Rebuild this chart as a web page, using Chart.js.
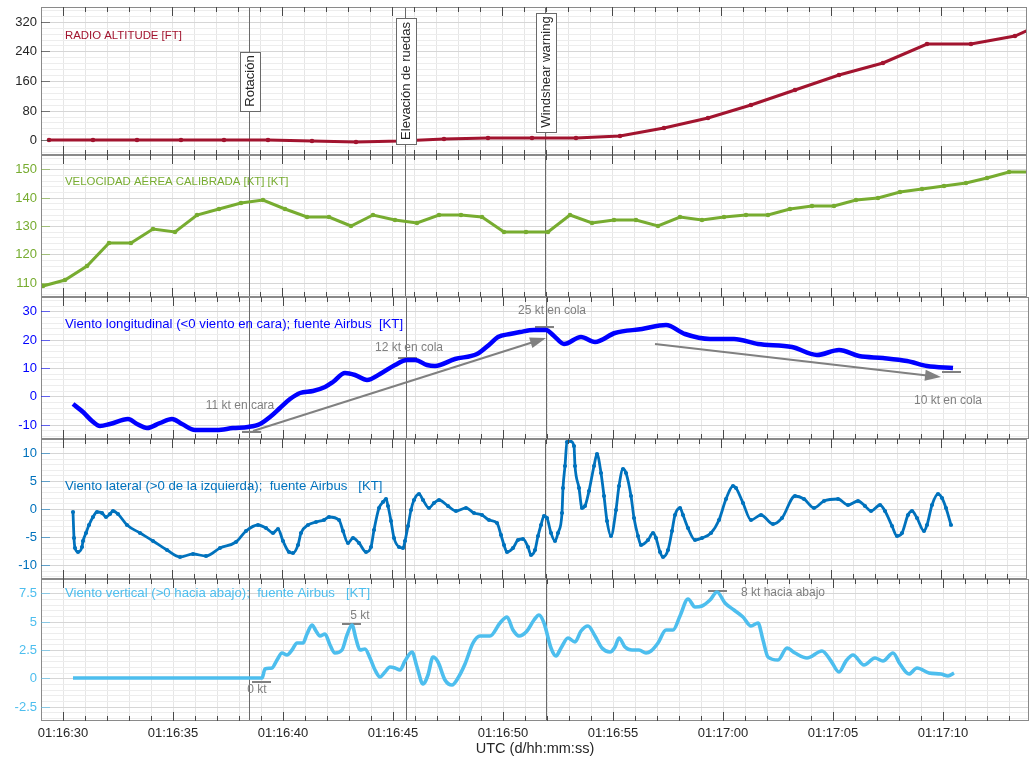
<!DOCTYPE html>
<html lang="es">
<head>
<meta charset="utf-8">
<title>Despegue: altura, velocidad y viento</title>
<script src="https://cdn.jsdelivr.net/npm/chart.js@4.4.1/dist/chart.umd.min.js"></script>
<style>
  html, body { margin: 0; padding: 0; background: #ffffff; }
  #figure { position: relative; width: 1031px; height: 757px; overflow: hidden; background: #ffffff; }
  #figure canvas { position: absolute; left: 0; }
</style>
</head>
<body>
<div id="figure"></div>
<script>
// ---------------------------------------------------------------------------
// Data. Time is given in seconds after 01:16:30 UTC.
// ---------------------------------------------------------------------------
const xMajorTimes  = [0, 5, 10, 15, 20, 25, 30, 35, 40];
const xMajorLabels = ['01:16:30', '01:16:35', '01:16:40', '01:16:45', '01:16:50',
                      '01:16:55', '01:17:00', '01:17:05', '01:17:10'];

const eventTimes    = [8.48, 15.6, 21.97];
const eventNames    = ['Rotación', 'Elevación de ruedas', 'Windshear warning'];
const eventLabelAlt = [161, 161, 184];   // box centre, on the radio-altitude axis

const raTicks   = [0, 80, 160, 240, 320];
const casTicks  = [110, 120, 130, 140, 150];
const longTicks = [-10, 0, 10, 20, 30];
const latTicks  = [-10, -5, 0, 5, 10];
const vertTicks = [-2.5, 0, 2.5, 5, 7.5];

// Radio altitude [ft]
const raTime = [-0.63, 1.37, 3.37, 5.37, 7.37, 9.37, 11.37, 13.37, 15.37, 17.37, 19.37, 21.37,
                23.37, 25.37, 27.37, 29.37, 31.37, 33.37, 35.37, 37.37, 39.37, 41.37, 43.37, 45.37];
const raFt   = [0, 0, 0, 0, 0, 0, -2, -4, -1, 2, 6, 6,
                7, 12, 32, 60, 95, 135, 175, 208, 259, 259, 282, 335];

// Calibrated airspeed [kt]
const casTime = [-0.88, 0.12, 1.12, 2.12, 3.12, 4.12, 5.12, 6.12, 7.12, 8.12, 9.12, 10.12,
                 11.12, 12.12, 13.12, 14.12, 15.12, 16.12, 17.12, 18.12, 19.12, 20.12, 21.12,
                 22.12, 23.12, 24.12, 25.12, 26.12, 27.12, 28.12, 29.12, 30.12, 31.12, 32.12,
                 33.12, 34.12, 35.12, 36.12, 37.12, 38.12, 39.12, 40.12, 41.12, 42.12, 43.12, 44.12];
const casKt   = [109, 111, 116, 124, 124, 129, 128, 134, 136, 138, 139, 136,
                 133, 133, 130, 134, 132, 131, 134, 134, 133, 128, 128,
                 128, 134, 131, 132, 132, 130, 133, 132, 133, 134, 134,
                 136, 137, 137, 139, 140, 142, 143, 144, 145, 147, 149, 149];

// Longitudinal wind [kt] (<0 headwind)
const longTime = [0.48, 0.94, 1.32, 1.70, 2.15, 2.98, 3.36, 3.82, 4.42, 4.98, 5.41, 6.01, 7.00,
                  7.75, 8.44, 8.97, 9.42, 9.88, 10.33, 10.79, 11.39, 11.92, 12.30, 12.83, 13.29,
                  13.82, 14.42, 15.10, 15.64, 16.01, 16.55, 16.92, 17.83, 18.82, 19.42, 19.80,
                  20.33, 20.80, 21.42, 21.96, 22.34, 22.80, 23.58, 24.19, 25.12, 26.35, 27.43,
                  28.27, 29.43, 30.51, 31.59, 33.13, 34.29, 35.29, 36.21, 37.29, 38.37, 39.29, 40.45];
const longKt   = [-2.7, -5.4, -8.6, -10.4, -9.8, -8.0, -9.8, -11.0, -9.2, -7.8, -9.8, -11.8, -11.8,
                  -11.3, -10.7, -9.6, -7.4, -4.1, -0.9, 1.1, 2.0, 3.2, 5.2, 8.3, 7.6,
                  5.6, 7.9, 11.1, 12.7, 12.9, 11.1, 10.6, 13.3, 15.0, 18.6, 20.9,
                  22.1, 22.7, 23.3, 23.3, 21.3, 18.3, 21.0, 19.3, 22.5, 23.7, 25.2,
                  21.9, 20.1, 20.3, 18.5, 17.3, 14.7, 16.5, 14.1, 13.5, 12.5, 10.8, 9.9];

// Lateral wind [kt] (>0 from the left)
const latTime = [0.48, 0.50, 0.56, 0.71, 0.86, 0.94, 1.06, 1.21, 1.36, 1.55,
                 1.77, 1.97, 2.15, 2.30, 2.52, 2.91, 3.51, 4.12, 4.73, 5.33,
                 5.94, 6.55, 7.15, 7.90, 8.36, 8.89, 9.27, 9.57, 9.80, 10.03,
                 10.33, 10.48, 10.71, 10.86, 11.16, 11.55, 11.92, 12.15, 12.60, 12.75,
                 12.98, 13.21, 13.51, 13.82, 14.04, 14.20, 14.42, 14.57, 14.73, 14.84,
                 14.95, 15.10, 15.33, 15.48, 15.60, 15.71, 15.86, 16.01, 16.21, 16.39,
                 16.70, 16.92, 17.15, 17.53, 17.91, 18.36, 18.74, 19.12, 19.42, 19.80,
                 19.95, 20.10, 20.26, 20.50, 20.72, 20.95, 21.19, 21.34, 21.50, 21.65,
                 21.80, 21.91, 22.04, 22.26, 22.42, 22.57, 22.73, 22.80, 22.88, 22.96,
                 23.11, 23.27, 23.35, 23.50, 23.65, 23.80, 23.96, 24.19, 24.35, 24.50,
                 24.65, 24.81, 24.96, 25.20, 25.35, 25.50, 25.65, 25.89, 26.04, 26.20,
                 26.35, 26.66, 26.89, 27.04, 27.20, 27.35, 27.58, 27.74, 27.89, 28.12,
                 28.27, 28.50, 28.81, 29.12, 29.51, 29.89, 30.20, 30.51, 30.66, 30.97,
                 31.35, 31.82, 32.36, 32.74, 33.36, 33.75, 34.21, 34.67, 35.29, 35.75,
                 36.21, 36.52, 36.83, 37.21, 37.44, 37.75, 37.98, 38.21, 38.52, 38.68,
                 38.90, 39.21, 39.37, 39.60, 39.88, 40.06, 40.22, 40.45];
const latKt   = [-0.5, -5.2, -7.0, -7.6, -6.7, -5.8, -4.3, -2.8, -1.4, -0.5,
                 -0.8, -1.4, -0.9, -0.35, -0.9, -2.8, -4.3, -5.8, -7.4, -8.6,
                 -8.0, -8.4, -7.0, -5.9, -4.0, -2.8, -3.4, -4.2, -3.5, -5.7,
                 -7.6, -7.8, -6.4, -4.3, -2.8, -2.4, -1.9, -1.4, -1.9, -4.0,
                 -6.1, -5.2, -6.1, -7.6, -6.7, -3.7, 0.1, 1.3, 1.8, 0.6,
                 -2.2, -5.2, -6.7, -7.0, -5.8, -3.1, -0.2, 1.6, 2.6, 1.6,
                 0.1, 1.0, 1.6, 0.6, -0.35, 0.2, -0.8, -1.1, -1.9, -2.5,
                 -4.6, -6.4, -7.6, -7.0, -5.5, -5.4, -6.7, -8.2, -7.3, -4.9,
                 -2.8, -1.2, -1.6, -4.3, -5.8, -4.3, -0.7, 3.8, 7.7, 11.9,
                 12.2, 11.3, 7.7, 3.8, 0.2, 0.5, 3.2, 7.7, 9.8, 6.5,
                 2.3, -2.2, -4.9, -0.1, 4.1, 7.1, 6.5, 2.3, -1.6, -4.9,
                 -6.4, -5.5, -4.3, -5.2, -7.6, -8.6, -7.3, -4.0, -1.0, 0.2,
                 -1.0, -3.4, -5.5, -5.2, -4.3, -1.9, 1.7, 4.1, 3.8, 1.1,
                 -1.9, -1.0, -2.6, -1.6, 2.3, 1.7, 0.2, 1.4, 1.7, 0.8,
                 1.4, 0.5, -0.4, 0.8, -0.4, -3.1, -4.9, -4.3, -1.0, -0.4,
                 -1.6, -4.0, -2.8, 0.8, 2.6, 2.0, 0.2, -2.8];

// Vertical wind [kt] (>0 downward)
const vertTime = [0.48, 9.05, 9.20, 9.50, 9.73, 9.95, 10.18, 10.41, 10.66, 10.94,
                  11.12, 11.32, 11.51, 11.70, 11.92, 12.15, 12.38, 12.68, 12.91, 13.14,
                  13.33, 13.51, 13.74, 13.97, 14.20, 14.42, 14.65, 14.88, 15.10, 15.33,
                  15.56, 15.86, 16.09, 16.39, 16.62, 16.85, 17.07, 17.38, 17.68, 17.98,
                  18.29, 18.66, 18.97, 19.42, 19.88, 20.18, 20.48, 20.72, 21.11, 21.42,
                  21.65, 21.88, 22.19, 22.42, 22.65, 22.96, 23.27, 23.58, 23.88, 24.19,
                  24.50, 24.89, 25.12, 25.30, 25.58, 25.89, 26.20, 26.50, 26.73, 27.04,
                  27.43, 27.74, 28.05, 28.40, 28.74, 29.05, 29.43, 29.74, 30.12, 30.51,
                  30.90, 31.28, 31.62, 31.82, 32.05, 32.51, 32.90, 33.28, 33.82, 34.51,
                  34.90, 35.29, 35.60, 35.93, 36.44, 36.90, 37.29, 37.75, 38.06, 38.45,
                  38.83, 39.37, 39.91, 40.22, 40.50];
const vertKt   = [0, 0, 0.8, 0.94, 1.6, 2.2, 2.05, 2.5, 3.1, 3.1,
                  3.9, 4.7, 4.2, 3.7, 3.9, 2.9, 2.2, 2.5, 3.8, 4.7,
                  3.5, 2.5, 2.6, 1.8, 0.7, 0.14, 0.6, 1.0, 0.9, 0.7,
                  1.5, 2.3, 1.0, -0.5, 0.3, 1.9, 1.4, -0.15, -0.6, 0.0,
                  1.3, 3.1, 3.7, 3.7, 4.85, 5.4, 4.3, 3.7, 4.2, 5.1,
                  5.6, 4.9, 2.7, 2.0, 2.7, 3.6, 3.2, 4.2, 4.6, 3.7,
                  2.7, 2.3, 2.8, 3.6, 2.8, 2.5, 2.5, 2.2, 2.4, 3.1,
                  4.3, 4.3, 5.5, 7.0, 6.3, 6.4, 6.9, 7.6, 6.6, 6.0,
                  5.4, 4.6, 4.9, 3.4, 1.9, 1.6, 2.7, 2.2, 1.8, 2.4,
                  1.5, 0.6, 1.5, 2.1, 1.2, 1.8, 1.5, 2.2, 1.3, 0.4,
                  0.9, 0.44, 0.4, 0.2, 0.5];

// Reference marks, captions and trend arrows on the wind panels
const longMarkTime  = [8.58, 15.66, 21.91, 40.41];
const longMarkKt    = [-12.7, 13.5, 24.4, 8.5];
const longNoteText  = ['11 kt en cara', '12 kt en cola', '25 kt en cola', '10 kt en cola'];
const longNoteTime  = [8.07, 15.73, 22.24, 40.26];
const longNoteKt    = [-3.3, 17.2, 29.9, -1.5];
const longArrowFrom = [[8.66, -12.2], [26.94, 18.3]];
const longArrowTo   = [[21.96, 20.5], [39.9, 6.8]];

const vertMarkTime = [9.02, 13.13, 29.75];
const vertMarkKt   = [-0.3, 4.82, 7.7];
const vertNoteText = ['0 kt', '5 kt', '8 kt hacia abajo'];
const vertNoteTime = [8.85, 13.51, 32.72];
const vertNoteKt   = [-1.03, 5.53, 7.48];

// ---------------------------------------------------------------------------
// Drawing
// ---------------------------------------------------------------------------
const FONT = "'Liberation Sans', Arial, Helvetica, sans-serif";
const X_MIN = -0.986, X_MAX = 43.92;
const PAD = 6;          // canvas margin around each plot box
const AXIS_W = 41;      // width reserved for the y tick labels
const FIG_H = 757;
const NOTE_GREY = '#808080';
const MARK_HALF = 0.43; // half length of a reference mark, in seconds

const pts = (xs, ys) => xs.map((x, i) => ({ x, y: ys[i] }));
const near = (a, b) => Math.abs(a - b) < 1e-6;

function markDatasets(times, values) {
  return times.map((t, i) => ({
    data: [{ x: t - MARK_HALF, y: values[i] }, { x: t + MARK_HALF, y: values[i] }],
    borderColor: NOTE_GREY, borderWidth: 2, pointRadius: 0, tension: 0
  }));
}

function notes(texts, times, values) {
  return texts.map((text, i) => ({ text, t: times[i], v: values[i] }));
}

const panels = [
  {
    top: 7, bottom: 155, min: -40, max: 360, minor: 16, ticks: raTicks,
    tickColor: '#262626', color: '#A2142F',
    label: 'RADIO ALTITUDE [FT]', labelSize: 11.4, labelDy: 29,
    datasets: [{
      data: pts(raTime, raFt), borderColor: '#A2142F', borderWidth: 3,
      pointRadius: 2.3, pointBackgroundColor: '#A2142F', pointBorderWidth: 0, tension: 0
    }],
    notes: [], arrows: [], events: true
  },
  {
    top: 155, bottom: 297, min: 105, max: 155, minor: 2, ticks: casTicks,
    tickColor: '#77AC30', color: '#77AC30',
    label: 'VELOCIDAD AÉREA CALIBRADA [KT] [KT]', labelSize: 11.4, labelDy: 27.3,
    datasets: [{
      data: pts(casTime, casKt), borderColor: '#77AC30', borderWidth: 3,
      pointRadius: 2.3, pointBackgroundColor: '#77AC30', pointBorderWidth: 0, tension: 0
    }],
    notes: [], arrows: []
  },
  {
    top: 297, bottom: 439, min: -15, max: 35, minor: 2, ticks: longTicks,
    tickColor: '#0000FF', color: '#0000FF',
    label: 'Viento longitudinal (<0 viento en cara); fuente Airbus  [KT]', labelSize: 13.2, labelDy: 27,
    datasets: [{
      data: pts(longTime, longKt), borderColor: '#0000FF', borderWidth: 4.5,
      pointRadius: 0, cubicInterpolationMode: 'monotone'
    }].concat(markDatasets(longMarkTime, longMarkKt)),
    notes: notes(longNoteText, longNoteTime, longNoteKt),
    arrows: longArrowFrom.map((f, i) => ({ from: f, to: longArrowTo[i] }))
  },
  {
    top: 439, bottom: 579, min: -12.5, max: 12.5, minor: 1, ticks: latTicks,
    tickColor: '#0072BD', color: '#0072BD',
    label: 'Viento lateral (>0 de la izquierda);  fuente Airbus   [KT]', labelSize: 13.2, labelDy: 47,
    datasets: [{
      data: pts(latTime, latKt), borderColor: '#0072BD', borderWidth: 2.8,
      pointRadius: 2.1, pointBackgroundColor: '#0072BD', pointBorderWidth: 0,
      cubicInterpolationMode: 'monotone'
    }],
    notes: [], arrows: []
  },
  {
    top: 579, bottom: 721, min: -3.75, max: 8.75, minor: 0.5, ticks: vertTicks,
    tickColor: '#4DBEEE', color: '#4DBEEE',
    label: 'Viento vertical (>0 hacia abajo);  fuente Airbus   [KT]', labelSize: 13.2, labelDy: 14.3,
    datasets: [{
      data: pts(vertTime, vertKt), borderColor: '#4DBEEE', borderWidth: 3.6,
      pointRadius: 0, cubicInterpolationMode: 'monotone'
    }].concat(markDatasets(vertMarkTime, vertMarkKt)),
    notes: notes(vertNoteText, vertNoteTime, vertNoteKt),
    arrows: []
  }
];

function drawArrow(ctx, x0, y0, x1, y1) {
  const ang = Math.atan2(y1 - y0, x1 - x0);
  const L = 16, W = 5.5;
  const c = Math.cos(ang), s = Math.sin(ang);
  const bx = x1 - L * c, by = y1 - L * s;
  ctx.beginPath(); ctx.moveTo(x0, y0); ctx.lineTo(bx + 2 * c, by + 2 * s); ctx.stroke();
  ctx.beginPath();
  ctx.moveTo(x1, y1);
  ctx.lineTo(bx + W * s, by - W * c);
  ctx.lineTo(bx - W * s, by + W * c);
  ctx.closePath(); ctx.fill();
}

function panelPlugin(p, index) {
  return {
    id: 'panelDecor' + index,
    beforeDatasetsDraw(chart) {
      const { ctx, chartArea: a, scales: { x } } = chart;
      ctx.save();
      ctx.strokeStyle = '#6a6a6a';
      ctx.lineWidth = 1;
      eventTimes.forEach(t => {
        const px = Math.round(x.getPixelForValue(t)) + 0.5;
        ctx.beginPath(); ctx.moveTo(px, a.top); ctx.lineTo(px, a.bottom); ctx.stroke();
      });
      ctx.restore();
    },
    afterDatasetsDraw(chart) {
      const { ctx, chartArea: a, scales: { x, y } } = chart;
      ctx.save();
      // trend arrows
      ctx.strokeStyle = NOTE_GREY; ctx.fillStyle = NOTE_GREY; ctx.lineWidth = 2;
      p.arrows.forEach(ar => {
        drawArrow(ctx, x.getPixelForValue(ar.from[0]), y.getPixelForValue(ar.from[1]),
                       x.getPixelForValue(ar.to[0]), y.getPixelForValue(ar.to[1]));
      });
      // captions
      ctx.font = '12px ' + FONT;
      ctx.textAlign = 'center'; ctx.textBaseline = 'middle';
      p.notes.forEach(n => ctx.fillText(n.text, x.getPixelForValue(n.t), y.getPixelForValue(n.v)));
      // series name
      ctx.fillStyle = p.color;
      ctx.font = p.labelSize + 'px ' + FONT;
      ctx.textAlign = 'left';
      ctx.fillText(p.label, a.left + 24, a.top + p.labelDy);
      ctx.restore();
    },
    afterDraw(chart) {
      const { ctx, chartArea: a, scales: { x, y } } = chart;
      ctx.save();
      // frame
      ctx.strokeStyle = '#8a8a8a'; ctx.lineWidth = 1;
      ctx.strokeRect(a.left + 0.5, a.top + 0.5, a.right - a.left - 1, a.bottom - a.top - 1);
      // inward time ticks on the top and bottom edges
      ctx.strokeStyle = '#4a4a4a';
      ctx.beginPath();
      for (let s = 0; s <= 43; s++) {
        const px = Math.round(x.getPixelForValue(s)) + 0.5;
        const len = (s % 5 === 0) ? 9 : 5;
        ctx.moveTo(px, a.top); ctx.lineTo(px, a.top + len);
        ctx.moveTo(px, a.bottom); ctx.lineTo(px, a.bottom - len);
      }
      ctx.stroke();
      // inward value ticks on the left edge
      ctx.strokeStyle = p.tickColor; ctx.globalAlpha = 0.55;
      ctx.beginPath();
      p.ticks.forEach(v => {
        const py = Math.round(y.getPixelForValue(v)) + 0.5;
        ctx.moveTo(a.left, py); ctx.lineTo(a.left + 9, py);
      });
      ctx.stroke();
      ctx.globalAlpha = 1;
      // event captions on the altitude panel
      if (p.events) {
        ctx.font = '13px ' + FONT;
        eventNames.forEach((name, i) => {
          const cx = Math.round(x.getPixelForValue(eventTimes[i])) + 0.5;
          const cy = y.getPixelForValue(eventLabelAlt[i]);
          const w = ctx.measureText(name).width;
          const bh = Math.round(w + 8), bw = 20;
          const bx = Math.round(cx - bw / 2) + 0.5, by = Math.round(cy - bh / 2) + 0.5;
          ctx.fillStyle = '#ffffff';
          ctx.fillRect(bx, by, bw, bh);
          ctx.strokeStyle = '#6a6a6a';
          ctx.strokeRect(bx, by, bw, bh);
          ctx.save();
          ctx.translate(cx + 0.5, cy);
          ctx.rotate(-Math.PI / 2);
          ctx.fillStyle = '#262626';
          ctx.textAlign = 'center'; ctx.textBaseline = 'middle';
          ctx.fillText(name, 0, 0);
          ctx.restore();
        });
      }
      ctx.restore();
    }
  };
}

function buildPanel(p, index) {
  const isLast = index === panels.length - 1;
  const canvas = document.createElement('canvas');
  canvas.width = 1031;
  canvas.height = (p.bottom - p.top) + PAD + (isLast ? FIG_H - p.bottom : PAD);
  canvas.style.top = (p.top - PAD) + 'px';
  document.getElementById('figure').appendChild(canvas);

  const yTickValues = [];
  for (let v = Math.ceil(p.min / p.minor) * p.minor; v < p.max - 1e-9; v += p.minor) {
    if (v > p.min + 1e-9) yTickValues.push(Math.round(v * 1000) / 1000);
  }
  const xTickValues = [];
  for (let s = 0; s <= 43; s++) xTickValues.push(s);

  new Chart(canvas, {
    type: 'line',
    data: { datasets: p.datasets },
    options: {
      responsive: false,
      animation: false,
      devicePixelRatio: 1,
      events: [],
      layout: { padding: { left: 0, right: 2, top: PAD, bottom: isLast ? 0 : PAD } },
      plugins: { legend: { display: false }, tooltip: { enabled: false } },
      scales: {
        x: {
          type: 'linear', min: X_MIN, max: X_MAX, alignToPixels: true,
          afterBuildTicks: s => { s.ticks = xTickValues.map(v => ({ value: v })); },
          afterFit: s => {
            s.paddingLeft = 0; s.paddingRight = 0;
            if (isLast) s.height = FIG_H - p.bottom;
          },
          border: { display: false },
          grid: { drawTicks: false, lineWidth: 1, color: '#e6e6e6' },
          ticks: {
            display: isLast, autoSkip: false, maxRotation: 0, minRotation: 0, padding: 5,
            color: '#262626', font: { family: FONT, size: 13 },
            callback: v => {
              const i = xMajorTimes.findIndex(t => near(t, v));
              return i >= 0 ? xMajorLabels[i] : '';
            }
          },
          title: {
            display: isLast, text: 'UTC (d/hh:mm:ss)', color: '#262626',
            font: { family: FONT, size: 14.5, lineHeight: 1.05 }, padding: 0
          }
        },
        y: {
          type: 'linear', min: p.min, max: p.max, alignToPixels: true,
          afterBuildTicks: s => { s.ticks = yTickValues.map(v => ({ value: v })); },
          afterFit: s => { s.width = AXIS_W; s.paddingTop = 0; s.paddingBottom = 0; },
          border: { display: false },
          grid: {
            drawTicks: false, lineWidth: 1,
            color: c => (c.tick && p.ticks.some(t => near(t, c.tick.value))) ? '#d6d6d6' : '#ededed'
          },
          ticks: {
            autoSkip: false, padding: 4, color: p.tickColor, font: { family: FONT, size: 13 },
            callback: v => p.ticks.some(t => near(t, v)) ? String(v) : ''
          }
        }
      }
    },
    plugins: [panelPlugin(p, index)]
  });
}

panels.forEach(buildPanel);
</script>
</body>
</html>
